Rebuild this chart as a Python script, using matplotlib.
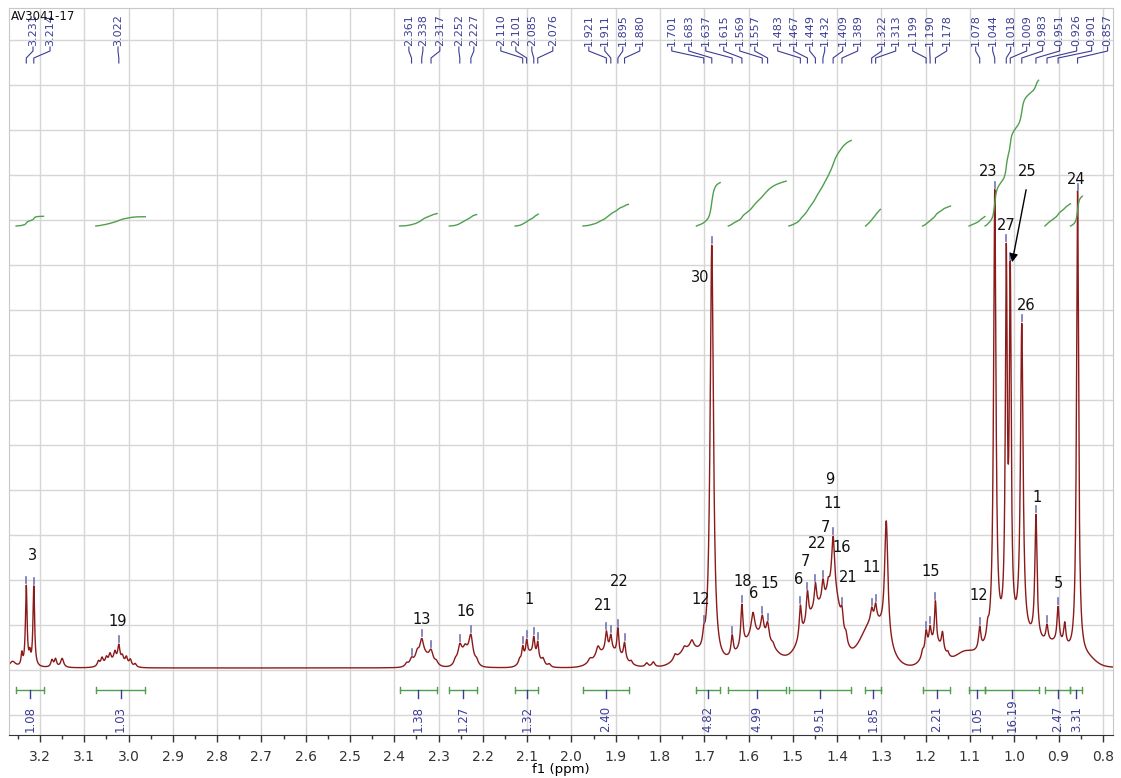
import numpy as np
import matplotlib
matplotlib.use("Agg")
import matplotlib.pyplot as plt
from matplotlib.transforms import blended_transform_factory

plt.rcParams['font.family'] = ['DejaVu Sans']

# ---------------- data ----------------
title = "AV3041-17"

# sharp resonances (ppm, height, half-width)
line_ppm = [3.262, 3.241, 3.231, 3.223, 3.214, 3.173, 3.165, 3.150,
            3.068, 3.060, 3.050, 3.042, 3.031, 3.022, 3.014, 3.005, 2.996, 2.985,
            2.372, 2.361, 2.348, 2.338, 2.317, 2.305,
            2.262, 2.252, 2.240, 2.227, 2.214,
            2.117, 2.110, 2.101, 2.085, 2.076, 2.064, 2.050,
            1.958, 1.940, 1.921, 1.911, 1.895, 1.880, 1.865, 1.830, 1.815,
            1.766, 1.745, 1.728, 1.701, 1.683,
            1.637, 1.615, 1.590, 1.569, 1.557, 1.545,
            1.483, 1.467, 1.449, 1.432, 1.420, 1.409, 1.389, 1.380,
            1.322, 1.313, 1.289,
            1.207, 1.199, 1.190, 1.178, 1.162, 1.150,
            1.078, 1.060, 1.044, 1.018, 1.009, 0.983, 0.951, 0.926, 0.901, 0.886, 0.857]
line_height = [6, 12, 80, 10, 80, 7, 8, 9,
               5, 7, 6, 8, 9, 16, 6, 7, 6, 3,
               3, 5, 6, 16, 10, 3,
               4, 14, 5, 22, 4,
               4, 13, 15, 17, 16, 6, 3,
               4, 10, 19, 15, 26, 17, 3, 4, 5,
               5, 4, 8, 12, 420,
               20, 42, 24, 20, 18, 4,
               32, 30, 24, 20, 10, 55, 16, 8,
               12, 15, 120,
               6, 20, 18, 42, 18, 4,
               22, 12, 450, 363, 344, 310, 124, 16, 36, 22, 466]
line_hwhm = [0.008, 0.002, 0.0022, 0.002, 0.0022, 0.003, 0.003, 0.004,
             0.003, 0.003, 0.003, 0.003, 0.003, 0.003, 0.003, 0.003, 0.003, 0.003,
             0.004, 0.004, 0.004, 0.005, 0.005, 0.004,
             0.004, 0.005, 0.004, 0.005, 0.004,
             0.003, 0.0025, 0.0025, 0.0025, 0.0025, 0.004, 0.004,
             0.005, 0.005, 0.003, 0.003, 0.0025, 0.003, 0.003, 0.004, 0.004,
             0.004, 0.004, 0.005, 0.003, 0.0045,
             0.003, 0.003, 0.005, 0.004, 0.004, 0.004,
             0.003, 0.003, 0.003, 0.003, 0.003, 0.004, 0.003, 0.003,
             0.003, 0.003, 0.0045,
             0.003, 0.003, 0.003, 0.0025, 0.003, 0.003,
             0.003, 0.003, 0.0032, 0.0025, 0.0025, 0.0035, 0.003, 0.003, 0.003, 0.003, 0.0028]

# broad humps (ppm, height, sigma)
hump_ppm = [3.030, 2.335, 2.238, 2.092, 1.915, 1.735, 1.580, 1.440, 1.405, 1.318, 1.180, 1.115, 1.000, 0.900, 0.835]
hump_height = [6, 12, 14, 14, 16, 16, 30, 60, 35, 45, 22, 10, 28, 14, 7]
hump_sigma = [0.022, 0.018, 0.014, 0.016, 0.028, 0.025, 0.035, 0.035, 0.015, 0.028, 0.020, 0.020, 0.060, 0.030, 0.018]

# peak picking list
pick_ppm = [3.231, 3.214, 3.022, 2.361, 2.338, 2.317, 2.252, 2.227,
            2.110, 2.101, 2.085, 2.076, 1.921, 1.911, 1.895, 1.880,
            1.701, 1.683, 1.637, 1.615, 1.569, 1.557, 1.483, 1.467, 1.449, 1.432,
            1.409, 1.389, 1.322, 1.313, 1.199, 1.190, 1.178,
            1.078, 1.044, 1.018, 1.009, 0.983, 0.951, 0.926, 0.901, 0.857]

# integrals (from ppm, to ppm, value)
int_from = [3.254, 3.074, 2.388, 2.276, 2.127, 1.974, 1.718, 1.646, 1.509, 1.336, 1.207, 1.102, 1.066, 0.931, 0.873]
int_to = [3.192, 2.962, 2.303, 2.214, 2.075, 1.871, 1.664, 1.515, 1.368, 1.302, 1.144, 1.066, 0.945, 0.873, 0.846]
int_value = [1.08, 1.03, 1.38, 1.27, 1.32, 2.40, 4.82, 4.99, 9.51, 1.85, 2.21, 1.05, 16.19, 2.47, 3.31]

# assignments
assign_text = ["3", "19", "13", "16", "1", "21", "22", "12", "30", "18", "6", "15",
               "6", "7", "22", "7", "9", "11", "16", "21", "11", "15", "12",
               "23", "27", "25", "26", "1", "5", "24"]

# ---------------- layout ----------------
# label column positions (ppm) for the peak list
pick_label_ppm = [3.2158, 3.1774, 3.0239, 2.3670, 2.3354, 2.2971, 2.2542, 2.2203,
                  2.1594, 2.1255, 2.0894, 2.0420, 1.9607, 1.9246, 1.8840, 1.8456,
                  1.7734, 1.7350, 1.6966, 1.6560, 1.6199, 1.5860, 1.5341, 1.4980, 1.4619, 1.4280,
                  1.3874, 1.3535, 1.2993, 1.2677, 1.2293, 1.1909, 1.1526,
                  1.0871, 1.0487, 1.0081, 0.9720, 0.9359, 0.8975, 0.8591, 0.8253, 0.7892]
assign_x = [3.216, 3.024, 2.338, 2.238, 2.096, 1.929, 1.891, 1.708, 1.710, 1.613, 1.588, 1.552,
            1.487, 1.471, 1.444, 1.426, 1.417, 1.410, 1.390, 1.376, 1.322, 1.189, 1.080,
            1.058, 1.019, 0.970, 0.972, 0.949, 0.900, 0.859]
assign_y = [112, 46, 49, 57, 68, 63, 86, 69, 391, 86, 75, 84,
            89, 106, 124, 140, 188, 164, 120, 91, 101, 97, 72,
            496, 443, 496, 362, 170, 85, 489]

SPEC = '#8b1a1a'
GREEN = '#4f9f4f'
BLUE = '#3c3c96'
TICKBLUE = '#7474b4'

# ---------------- spectrum ----------------
x = np.linspace(3.27, 0.777, 9000)
y = np.zeros_like(x)
for p, h, w in zip(line_ppm, line_height, line_hwhm):
    y += h / (1.0 + ((x - p) / w) ** 2)
for p, h, s in zip(hump_ppm, hump_height, hump_sigma):
    y += h * np.exp(-0.5 * ((x - p) / s) ** 2)

fig = plt.figure(figsize=(11.21, 7.78), dpi=100)
ax = fig.add_axes([9 / 1121, 43 / 778, 1104 / 1121, 727 / 778])
ax.set_xlim(3.270, 0.777)
ax.set_ylim(-67, 660)

major = np.round(np.arange(0.8, 3.25, 0.1), 1)
ax.set_xticks(major)
ax.set_xticklabels([f"{v:.1f}" for v in major])
ax.set_xticks(np.round(np.arange(0.85, 3.27, 0.1), 2), minor=True)
ax.set_yticks(np.arange(-47, 629, 45))
ax.tick_params(axis='y', left=False, labelleft=False)
ax.tick_params(axis='x', which='major', length=5, width=1, direction='out',
               colors='#333333', labelsize=10, pad=6)
ax.tick_params(axis='x', which='minor', length=3, width=1, direction='out', colors='#333333')
ax.grid(True, which='major', color='#d6d6d6', lw=1)
ax.set_axisbelow(True)
for s in ['left', 'top', 'right']:
    ax.spines[s].set_color('#c8c8c8')
ax.spines['bottom'].set_color('#333333')
ax.set_xlabel("f1 (ppm)", fontsize=9.5, va='center')
ax.xaxis.set_label_coords(0.5, (735 - 769) / 727.0)

ax.plot(x, y, color=SPEC, lw=1.0)

# integrals
for a, b, v in zip(int_from, int_to, int_value):
    m = (x <= a) & (x >= b)
    xs = x[m]
    ys = y[m]
    cum = np.concatenate([[0], np.cumsum(0.5 * (ys[1:] + ys[:-1]) * np.abs(np.diff(xs)))])
    cum = cum / cum[-1]
    ax.plot(xs, 442 + 9 * v * cum, color=GREEN, lw=1.0)
    ax.plot([a, b], [-22, -22], color=GREEN, lw=1.0)
    ax.plot([a, a], [-19, -25], color=GREEN, lw=1.0)
    ax.plot([b, b], [-19, -25], color=GREEN, lw=1.0)
    c = 0.5 * (a + b)
    ax.plot([c, c], [-22, -30], color=BLUE, lw=1.0)
    ax.text(c, -64.5, f"{v:.2f}", rotation=90, ha='center', va='bottom',
            fontsize=8.5, color=BLUE)

# peak ticks and peak list labels
trans = blended_transform_factory(ax.transData, ax.transAxes)
def fy(py):
    return (735 - py) / 727.0
for p, lp in zip(pick_ppm, pick_label_ppm):
    top = np.interp(p, x[::-1], y[::-1])
    ax.plot([p, p], [top + 2, top + 8], color=TICKBLUE, lw=1.2)
    ax.plot([lp, lp, p, p], [fy(47), fy(51), fy(58), fy(63)], transform=trans,
            color=BLUE, lw=0.8, clip_on=False)
    ax.text(lp, fy(46), f"{p:.3f}", rotation=90, ha='center', va='bottom',
            fontsize=8, color=BLUE, transform=trans)

# assignments
for t, ax_, ay in zip(assign_text, assign_x, assign_y):
    ax.text(ax_, ay, t, ha='center', va='center', fontsize=10.5, color='#111111')

ax.annotate("", xy=(1.006, 403), xytext=(0.972, 481),
            arrowprops=dict(arrowstyle='-|>', color='black', lw=1.0, mutation_scale=12))

fig.text(11 / 1121, 1 - 10 / 778, title, ha='left', va='top', fontsize=8.5, color='#111111')

fig.savefig("out.png", dpi=100, facecolor='white')
